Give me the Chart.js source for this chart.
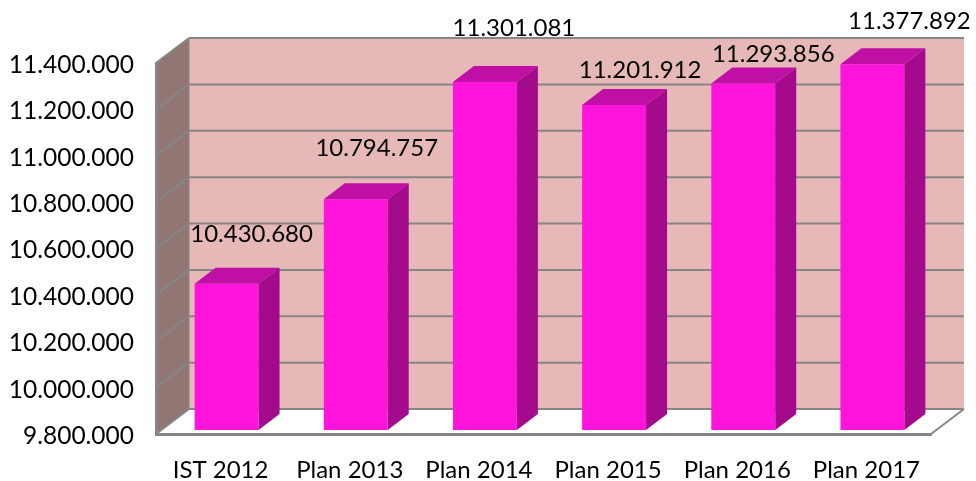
<!DOCTYPE html>
<html lang="en">
<head>
    <meta charset="UTF-8">
    <title>Plan chart</title>
    <script src="https://cdn.jsdelivr.net/npm/chart.js"></script>
    <style>
        html, body { margin: 0; padding: 0; background: #fff; }
        canvas { display: block; }
    </style>
</head>
<body>
    <canvas id="planChart" width="976" height="481"></canvas>

    <script>
        const categories = ['IST 2012', 'Plan 2013', 'Plan 2014', 'Plan 2015', 'Plan 2016', 'Plan 2017'];
        const values = [10430680, 10794757, 11301081, 11201912, 11293856, 11377892];
        const tickMin = 9800000;
        const tickMax = 11400000;
        const tickStep = 200000;

        // hand placed labels in the original, shift from the top middle of each bar
        const labelShiftX = [25, 21, 29, 26, 30, 37];
        const labelShiftY = [-49, -51, -54, -35, -29, -43];

        const FONT = '"Lato", "Noto Sans", sans-serif';
        const GREY = '#868686';

        function formatNum(n) {
            return String(n).replace(/\B(?=(\d{3})+(?!\d))/g, '.');
        }

        function poly(ctx, pts, fill) {
            ctx.beginPath();
            pts.forEach((p, i) => i ? ctx.lineTo(p[0], p[1]) : ctx.moveTo(p[0], p[1]));
            ctx.closePath();
            ctx.fillStyle = fill;
            ctx.fill();
        }

        function line(ctx, x1, y1, x2, y2, width) {
            ctx.beginPath();
            ctx.moveTo(x1, y1);
            ctx.lineTo(x2, y2);
            ctx.lineWidth = width;
            ctx.strokeStyle = GREY;
            ctx.stroke();
        }

        // depth of the box and of the bars, bars sit a bit behind the front edge
        const boxDX = 33, boxDY = -25;
        const barOffX = 6, barOffY = -4;
        const barDX = 21, barDY = -16;

        const box3d = {
            id: 'box3d',
            beforeDraw(chart) {
                const { ctx, chartArea: a, scales: { y } } = chart;
                const top = y.getPixelForValue(tickMax);
                const bottom = y.getPixelForValue(tickMin);
                ctx.save();
                // back wall
                poly(ctx, [[a.left + boxDX, top + boxDY], [a.right + boxDX, top + boxDY],
                    [a.right + boxDX, bottom + boxDY], [a.left + boxDX, bottom + boxDY]], '#E6B8B7');
                // side wall
                poly(ctx, [[a.left, top], [a.left + boxDX, top + boxDY],
                    [a.left + boxDX, bottom + boxDY], [a.left, bottom]], '#917674');
                line(ctx, a.left + boxDX, top + boxDY, a.left + boxDX, bottom + boxDY, 1);
                for (let v = tickMin; v <= tickMax; v += tickStep) {
                    const py = y.getPixelForValue(v);
                    line(ctx, a.left, py, a.left + boxDX, py + boxDY, 2);
                    line(ctx, a.left + boxDX, py + boxDY, a.right + boxDX, py + boxDY, 2);
                }
                // floor edge on the right
                line(ctx, a.right, bottom, a.right + boxDX, bottom + boxDY, 2);
                ctx.restore();
            },
            beforeDatasetsDraw(chart) {
                chart.ctx.save();
                chart.ctx.translate(barOffX, barOffY);
            },
            afterDatasetsDraw(chart) {
                const { ctx } = chart;
                const bars = chart.getDatasetMeta(0).data;
                bars.forEach((bar) => {
                    const l = bar.x - bar.width / 2;
                    const r = bar.x + bar.width / 2;
                    poly(ctx, [[l, bar.y], [r, bar.y], [r + barDX, bar.y + barDY], [l + barDX, bar.y + barDY]], '#BF0FA5');
                    poly(ctx, [[r, bar.y], [r + barDX, bar.y + barDY], [r + barDX, bar.base + barDY], [r, bar.base]], '#A30B8C');
                });
                ctx.restore();

                ctx.save();
                ctx.fillStyle = '#000';
                ctx.font = '24px ' + FONT;
                ctx.textAlign = 'center';
                ctx.textBaseline = 'middle';
                bars.forEach((bar, i) => {
                    ctx.fillText(formatNum(values[i]), bar.x + barOffX + labelShiftX[i], bar.y + barOffY + labelShiftY[i]);
                });
                ctx.restore();
            }
        };

        new Chart(document.getElementById('planChart'), {
            type: 'bar',
            data: {
                labels: categories,
                datasets: [{
                    data: values,
                    base: tickMin,
                    backgroundColor: '#FF14DC',
                    borderWidth: 0,
                    categoryPercentage: 0.495,
                    barPercentage: 1,
                    clip: false
                }]
            },
            options: {
                responsive: false,
                animation: false,
                layout: { padding: { top: 63, right: 45, left: 0, bottom: 0 } },
                plugins: { legend: { display: false }, tooltip: { enabled: false } },
                scales: {
                    x: {
                        afterFit(scale) { scale.height = 47; },
                        grid: { display: false },
                        border: { display: true, color: GREY, width: 3 },
                        ticks: { color: '#000', font: { family: FONT, size: 24 }, padding: 14, maxRotation: 0, autoSkip: false }
                    },
                    y: {
                        min: tickMin,
                        max: tickMax,
                        afterFit(scale) { scale.width = 156; },
                        grid: { display: false },
                        border: { display: true, color: GREY, width: 3 },
                        ticks: {
                            stepSize: tickStep,
                            color: '#000',
                            font: { family: FONT, size: 24.5 },
                            padding: 14,
                            labelOffset: 2,
                            callback: (v) => formatNum(v)
                        }
                    }
                }
            },
            plugins: [box3d]
        });
    </script>
</body>
</html>
